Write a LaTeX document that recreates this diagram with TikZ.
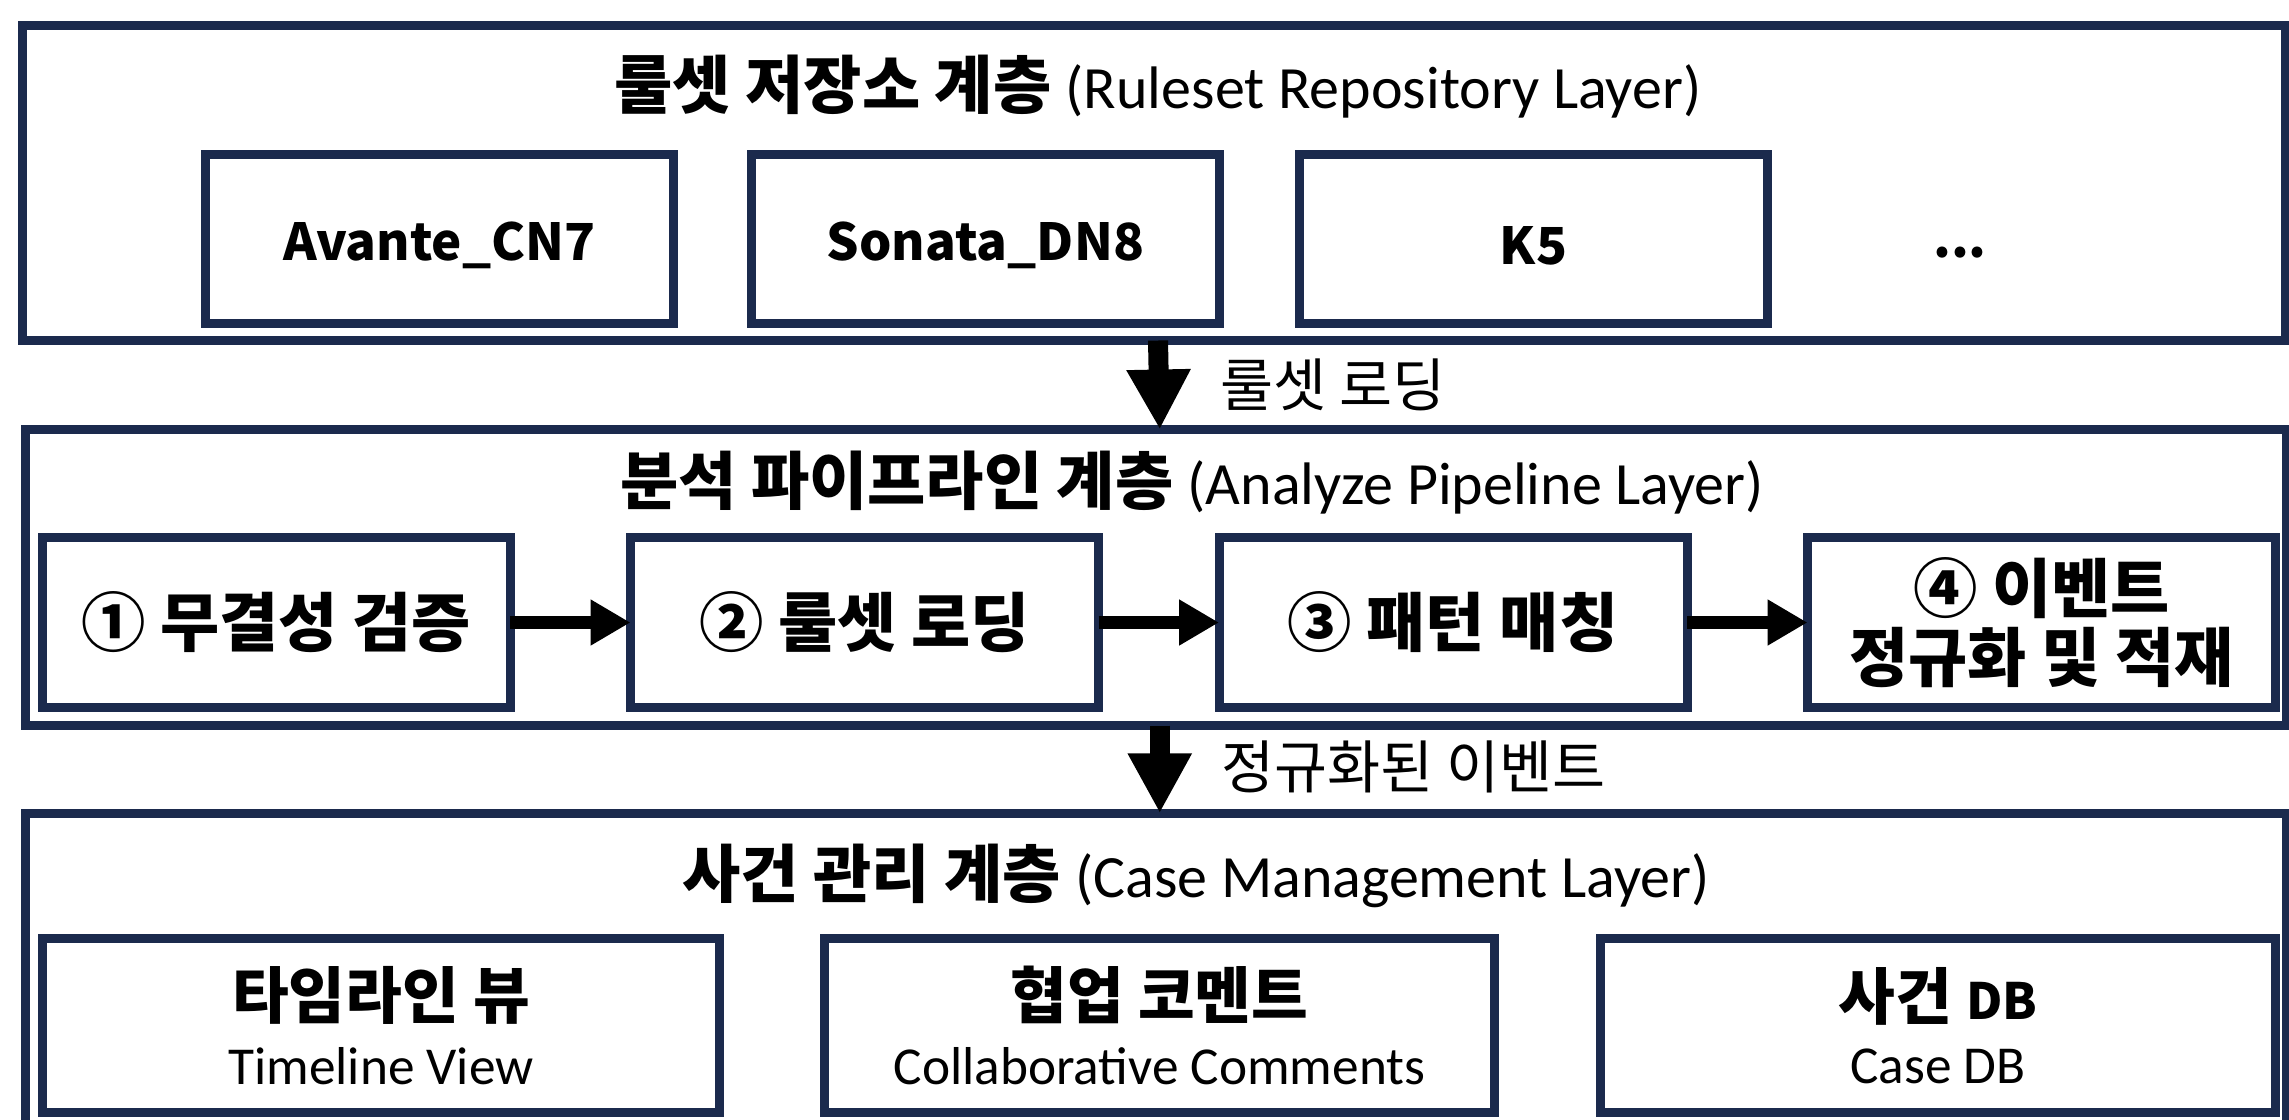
\documentclass[tikz,border=0pt]{standalone}
\usepackage{fontspec}
\setmainfont{Noto Sans CJK KR}
\newfontfamily\lat{Carlito}
\usetikzlibrary{arrows.meta}
\definecolor{navy}{RGB}{27,42,77}
\newcommand{\lowr}[1]{\raisebox{-2pt}[\height][\depth]{#1}}
\tikzset{
  layer/.style={draw=navy, line width=2.7pt, inner sep=0pt, outer sep=0pt},
  box/.style={draw=navy, line width=2.7pt, inner sep=0pt, outer sep=0pt, align=center},
  ttl/.style={inner sep=0pt, font=\fontsize{19pt}{21pt}\selectfont},
  boxtxt/.style={font=\fontsize{15.3pt}{18pt}\selectfont\bfseries},
  steptxt/.style={font=\fontsize{19.3pt}{20.7pt}\selectfont\bfseries},
  harrow/.style={line width=3.9pt, -{Triangle[length=12pt,width=13pt]}},
  varrow/.style={line width=6pt, -{Triangle[length=18pt,width=18pt]}},
  arrlbl/.style={inner sep=0pt, anchor=west, font=\fontsize{17.3pt}{19pt}\selectfont},
}
\begin{document}
\begin{tikzpicture}[x=0.3pt,y=-0.3pt]
\useasboundingbox (0,0) rectangle (2289,1119);
\clip (0,0) rectangle (2289,1119);
% layers
\node[layer, minimum width=679.05pt, minimum height=94.5pt] (top) at (1154,183) {};
\node[layer, minimum width=678.15pt, minimum height=88.8pt] (mid) at (1155.75,577.5) {};
\node[layer, minimum width=678.15pt, minimum height=96.45pt] (bot) at (1155.75,974) {};
% titles
\node[ttl] (t1) at (1158,87) {{\bfseries 룰셋 저장소 계층} {\lat\fontsize{18pt}{21pt}\selectfont (Ruleset Repository Layer)}};
\node[ttl] (t2) at (1192,483) {{\bfseries 분석 파이프라인 계층} {\lat\fontsize{18pt}{21pt}\selectfont (Analyze Pipeline Layer)}};
\node[ttl] (t3) at (1196,876) {{\bfseries 사건 관리 계층} {\lat\fontsize{18pt}{21pt}\selectfont (Case Management Layer)}};
% ruleset boxes
\node[box, boxtxt, minimum width=140.4pt, minimum height=50.7pt] (r1) at (439.5,239) {\lowr{Avante\_CN7}};
\node[box, boxtxt, minimum width=140.4pt, minimum height=50.7pt] (r2) at (985.5,239) {\lowr{Sonata\_DN8}};
\node[box, boxtxt, minimum width=140.4pt, minimum height=50.7pt] (r3) at (1533.5,239) {\lowr{K5}};
\node[boxtxt, anchor=base, inner sep=0pt] (r4) at (1960,257) {...};
% steps
\node[box, steptxt, minimum width=140.4pt, minimum height=51pt] (s1) at (276,622.5) {① 무결성 검증};
\node[box, steptxt, minimum width=140.4pt, minimum height=51pt] (s2) at (864.5,622.5) {② 룰셋 로딩};
\node[box, steptxt, minimum width=140.4pt, minimum height=51pt] (s3) at (1453,622.5) {③ 패턴 매칭};
\node[box, steptxt, minimum width=140.4pt, minimum height=51pt] (s4) at (2041.5,622.5) {④ 이벤트\\정규화 및 적재};
\draw[harrow] (s1.east) -- (s2.west);
\draw[harrow] (s2.east) -- (s3.west);
\draw[harrow] (s3.east) -- (s4.west);
% case boxes
\node[box, minimum width=203.1pt, minimum height=52.2pt] (c1) at (381,1025.5)
  {{\fontsize{18.5pt}{20pt}\selectfont\bfseries 타임라인 뷰}\\[6pt]{\lat\fontsize{16pt}{18pt}\selectfont Timeline View}};
\node[box, minimum width=201pt, minimum height=52.2pt] (c2) at (1159.5,1025.5)
  {{\fontsize{18.5pt}{20pt}\selectfont\bfseries 협업 코멘트}\\[6pt]{\lat\fontsize{16pt}{18pt}\selectfont Collaborative Comments}};
\node[box, minimum width=202.5pt, minimum height=52.2pt] (c3) at (1938,1025.5)
  {{\fontsize{18.5pt}{20pt}\selectfont\bfseries 사건 {\fontsize{15pt}{18pt}\selectfont DB}}\\[6pt]{\lat\fontsize{16pt}{18pt}\selectfont Case DB}};
% layer arrows
\draw[varrow] ([xshift=1.2pt]top.south) -- ([xshift=1.2pt]mid.north)
  node[midway, arrlbl, xshift=15.5pt] (l1) {룰셋 로딩};
\draw[varrow] ([xshift=1.2pt]mid.south) -- ([xshift=1.2pt]bot.north)
  node[midway, arrlbl, xshift=15.5pt, yshift=0.8pt] (l2) {정규화된 이벤트};
\end{tikzpicture}
\end{document}
